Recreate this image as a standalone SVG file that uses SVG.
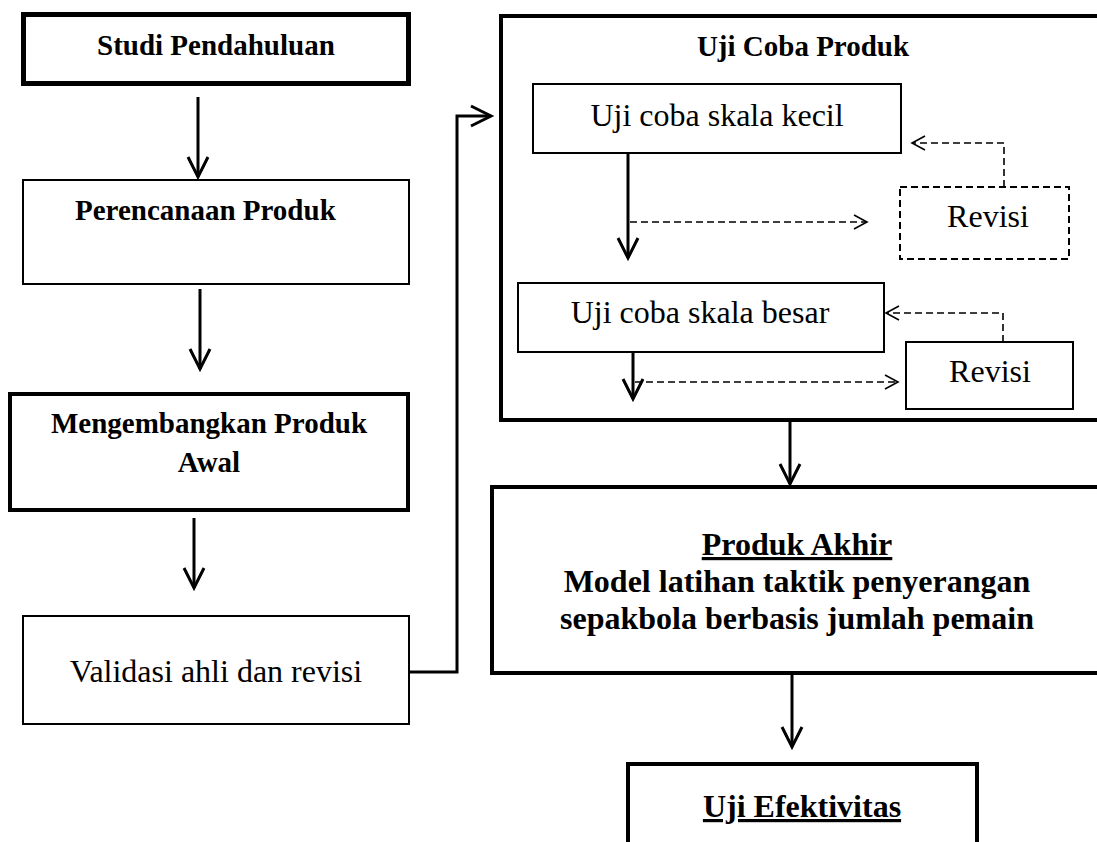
<svg xmlns="http://www.w3.org/2000/svg" width="1097" height="842" viewBox="0 0 1097 842">
<defs>
<style>
.box{fill:#fff;stroke:#000}
.thick{stroke-width:5}
.med{stroke-width:4}
.thin{stroke-width:2}
.dash{stroke-dasharray:7 4}
.t{font-family:"Liberation Serif","Times New Roman",serif;fill:#000}
.b29{font-size:29px;font-weight:bold}
.b32{font-size:32px;font-weight:bold}
.r32{font-size:32px}
.u{text-decoration:underline}
.c{stroke:#000;stroke-width:3;fill:none}
.cd{stroke:#000;stroke-width:1.6;fill:none;stroke-dasharray:7 4}
</style>
<marker id="ah" markerUnits="userSpaceOnUse" markerWidth="26" markerHeight="26" refX="22" refY="13" orient="auto">
<path d="M2,3 L22,13 L2,23" fill="none" stroke="#000" stroke-width="3"/>
</marker>
<marker id="ahs" markerUnits="userSpaceOnUse" markerWidth="18" markerHeight="18" refX="14" refY="9" orient="auto">
<path d="M1,2 L14,9 L1,16" fill="none" stroke="#000" stroke-width="1.6"/>
</marker>
</defs>
<rect width="1097" height="842" fill="#fff"/>

<g id="connectors">
<line class="c" x1="198" y1="97" x2="198" y2="177" marker-end="url(#ah)"/>
<line class="c" x1="200" y1="289" x2="200" y2="369" marker-end="url(#ah)"/>
<line class="c" x1="194" y1="518" x2="194" y2="588" marker-end="url(#ah)"/>
<polyline class="c" points="409,672 457,672 457,116 491,116" marker-end="url(#ah)"/>
<line class="c" x1="628" y1="153" x2="628" y2="258" marker-end="url(#ah)"/>
<line class="cd" x1="630" y1="222" x2="867" y2="222" marker-end="url(#ahs)"/>
<polyline class="cd" points="1004,187 1004,143 912,143" marker-end="url(#ahs)"/>
<line class="c" x1="633" y1="352" x2="633" y2="399" marker-end="url(#ah)"/>
<line class="cd" x1="635" y1="382" x2="898" y2="382" marker-end="url(#ahs)"/>
<polyline class="cd" points="1003,342 1003,313 886,313" marker-end="url(#ahs)"/>
<line class="c" x1="790" y1="422" x2="790" y2="484" marker-end="url(#ah)"/>
<line class="c" x1="792" y1="673" x2="792" y2="747" marker-end="url(#ah)"/>
</g>

<g id="studi-pendahuluan">
<rect class="box thick" x="23.5" y="14.5" width="385" height="69"/>
<text class="t b29" x="97" y="55">Studi Pendahuluan</text>
</g>

<g id="perencanaan-produk">
<rect class="box thin" x="23" y="180" width="386" height="104"/>
<text class="t b29" x="75" y="220">Perencanaan Produk</text>
</g>

<g id="mengembangkan-produk">
<rect class="box med" x="10" y="394" width="398" height="116"/>
<text class="t b29" text-anchor="middle" x="209" y="433">Mengembangkan Produk</text>
<text class="t b29" text-anchor="middle" x="209" y="472">Awal</text>
</g>

<g id="validasi">
<rect class="box thin" x="23" y="616" width="386" height="108"/>
<text class="t r32" text-anchor="middle" x="216" y="682">Validasi ahli dan revisi</text>
</g>

<g id="uji-coba-produk">
<rect class="box med" x="501" y="16" width="620" height="404" style="fill:none"/>
<text class="t b29" text-anchor="middle" x="803" y="56">Uji Coba Produk</text>
</g>

<g id="uji-skala-kecil">
<rect class="box thin" x="533" y="84" width="368" height="69"/>
<text class="t r32" text-anchor="middle" x="717" y="126">Uji coba skala kecil</text>
</g>

<g id="revisi-1">
<rect class="box thin dash" x="900" y="187" width="169" height="72"/>
<text class="t r32" text-anchor="middle" x="988" y="227">Revisi</text>
</g>

<g id="uji-skala-besar">
<rect class="box thin" x="518" y="283" width="366" height="69"/>
<text class="t r32" text-anchor="middle" x="700" y="323">Uji coba skala besar</text>
</g>

<g id="revisi-2">
<rect class="box thin" x="906" y="342" width="167" height="67"/>
<text class="t r32" text-anchor="middle" x="990" y="382">Revisi</text>
</g>

<g id="produk-akhir">
<rect class="box med" x="492" y="487" width="630" height="186"/>
<text class="t b32 u" text-anchor="middle" x="797" y="555">Produk Akhir</text>
<text class="t b32" text-anchor="middle" x="797" y="592">Model latihan taktik penyerangan</text>
<text class="t b32" text-anchor="middle" x="797" y="629">sepakbola berbasis jumlah pemain</text>
</g>

<g id="uji-efektivitas">
<rect class="box med" x="628" y="764" width="349" height="100"/>
<text class="t b32 u" text-anchor="middle" x="802" y="817">Uji Efektivitas</text>
</g>
</svg>
